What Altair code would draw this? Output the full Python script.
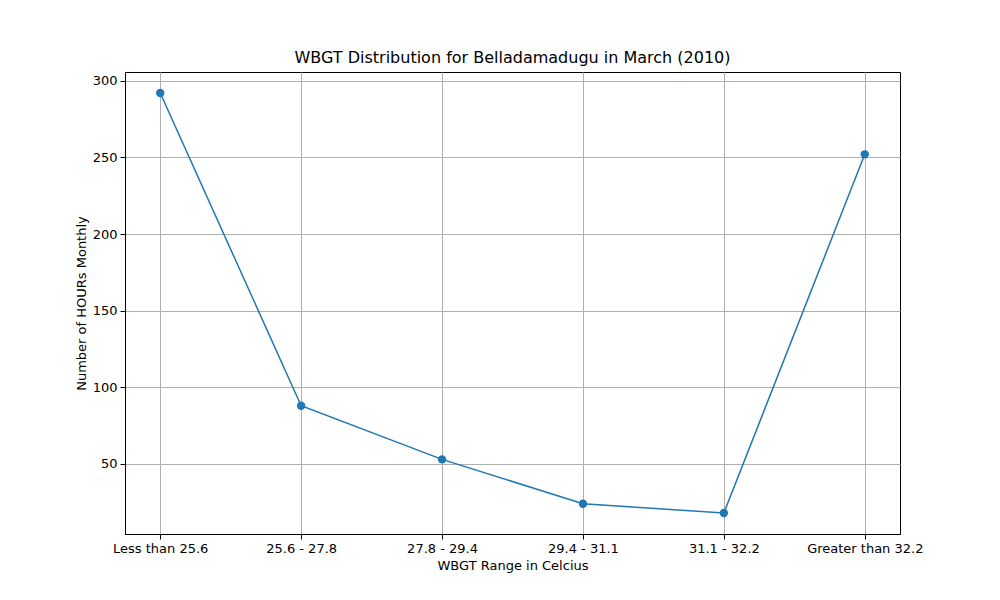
import altair as alt
import pandas as pd

categories = ["Less than 25.6", "25.6 - 27.8", "27.8 - 29.4", "29.4 - 31.1", "31.1 - 32.2", "Greater than 32.2"]
hours = [292, 88, 53, 24, 18, 252]

df = pd.DataFrame({"range": categories, "hours": hours})

base = alt.Chart(df).encode(
    x=alt.X("range:N", sort=categories, title="WBGT Range in Celcius",
            scale=alt.Scale(type="point", padding=0.25),
            axis=alt.Axis(labelAngle=0, grid=True, gridColor="#b0b0b0", tickColor="black",
                          domainColor="black", labelColor="black", titleColor="black",
                          labelFontSize=13, titleFontSize=13, titleFontWeight="normal",
                          labelFont="DejaVu Sans", titleFont="DejaVu Sans", tickSize=5, labelPadding=3)),
    y=alt.Y("hours:Q", title="Number of HOURs Monthly",
            scale=alt.Scale(domain=[4.3, 305.7], nice=False, zero=False),
            axis=alt.Axis(values=[50, 100, 150, 200, 250, 300], grid=True, gridColor="#b0b0b0",
                          tickColor="black", domainColor="black", labelColor="black", titleColor="black",
                          labelFontSize=13, titleFontSize=13, titleFontWeight="normal",
                          labelFont="DejaVu Sans", titleFont="DejaVu Sans", tickSize=5, labelPadding=3)),
)

chart = (base.mark_line(color="#1f77b4", strokeWidth=1.5) + base.mark_point(filled=True, size=70, opacity=1, color="#1f77b4")).properties(
    width=775, height=462,
    title=alt.TitleParams("WBGT Distribution for Belladamadugu in March (2010)", fontSize=16,
                          font="DejaVu Sans", fontWeight="normal", color="black", offset=6),
    autosize=alt.AutoSizeParams(type="none"),
    padding={"left": 117, "top": 64, "right": 92, "bottom": 58},
).configure_view(stroke="black", strokeWidth=1)

chart.save("out.html", embed_options={"renderer": "svg", "actions": False})
